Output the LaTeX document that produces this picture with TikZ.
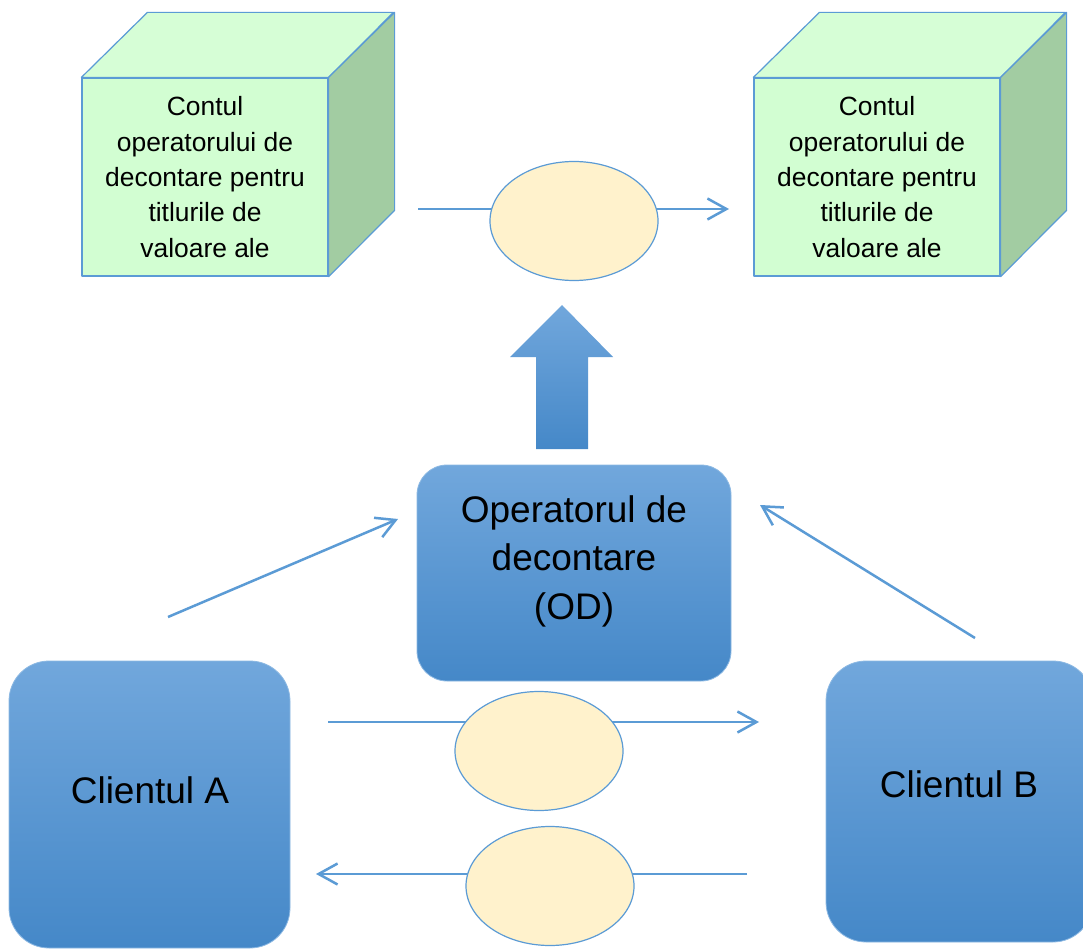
\documentclass[tikz,border=0pt]{standalone}
\usepackage{fontspec}
\setmainfont{Liberation Sans}
\usetikzlibrary{arrows.meta,shapes.geometric}
\definecolor{edgeblue}{HTML}{5B9BD5}
\definecolor{cubefront}{HTML}{D2FED2}
\definecolor{cubetop}{HTML}{D6FED6}
\definecolor{cubeside}{HTML}{A2CCA2}
\definecolor{ovalfill}{HTML}{FFF2CC}
\definecolor{boxtop}{HTML}{71A7DC}
\definecolor{boxbot}{HTML}{4588C8}
\tikzset{
  cubeface/.style={draw=edgeblue, line width=1.2pt, line join=round},
  frontface/.style={cubeface, fill=cubefront, minimum width=246pt, minimum height=198pt, inner sep=0pt,
     font=\fontsize{26.4}{35.3}\selectfont, align=center},
  oval/.style={ellipse, draw=edgeblue, line width=1.2pt, fill=ovalfill, minimum width=168pt, minimum height=119pt, inner sep=0pt},
  flow/.style={draw=edgeblue, line width=2.5pt},
  flowarrow/.style={flow, -{Straight Barb[length=19pt,width=21pt,line width=2.5pt]}},
  bluebox/.style={top color=boxtop, bottom color=boxbot, draw=boxtop!80!white, line width=0.8pt, inner sep=0pt},
  bigtext/.style={font=\fontsize{37}{48.5}\selectfont, align=center, inner sep=0pt}
}
\begin{document}
\begin{tikzpicture}[x=1pt,y=-1pt]
\useasboundingbox[fill=white] (0,0) rectangle (1083,949);

% cube 1
\node[frontface] (cubeA) at (205,177) {Contul\\operatorului de\\decontare pentru\\titlurile de\\valoare ale};
\draw[cubeface, fill=cubetop] (cubeA.north west) -- ++(66,-65) -- ++(246,0) -- (cubeA.north east) -- cycle;
\draw[cubeface, fill=cubeside] (cubeA.north east) -- ++(66,-65) -- ++(0,198) -- (cubeA.south east) -- cycle;

% cube 2
\node[frontface] (cubeB) at (877,177) {Contul\\operatorului de\\decontare pentru\\titlurile de\\valoare ale};
\draw[cubeface, fill=cubetop] (cubeB.north west) -- ++(66,-65) -- ++(246,0) -- (cubeB.north east) -- cycle;
\draw[cubeface, fill=cubeside] (cubeB.north east) -- ++(66,-65) -- ++(0,198) -- (cubeB.south east) -- cycle;

% top flow
\coordinate (t1) at (418,209);
\coordinate (t2) at (729,209);
\draw[flowarrow] (t1) -- (t2);
\node[oval] (ovalT) at (574,221) {};

% block arrow
\shade[top color=boxtop, bottom color=boxbot] (536,449) -- (536,357) -- (510,357) -- (562,305) -- (613,357) -- (588,357) -- (588,449) -- cycle;

% operator box
\node[bluebox, rounded corners=30pt, minimum width=314pt, minimum height=216pt] (od) at (574,573) {};
\node[bigtext] (odtext) at (574,561) {Operatorul de\\decontare\\(OD)};

% clients
\node[bluebox, rounded corners=40pt, minimum width=281pt, minimum height=287pt] (ca) at (149.5,804.5) {};
\node[bigtext] (catext) at (150,790) {Clientul A};
\node[bluebox, rounded corners=40pt, minimum width=267pt, minimum height=281pt] (cb) at (959.5,801.5) {};
\node[bigtext] (cbtext) at (959,784) {Clientul B};

% diagonal arrows
\coordinate (da1) at (168,617);
\coordinate (da2) at (398,519);
\draw[flowarrow] (da1) -- (da2);
\coordinate (db1) at (975,638);
\coordinate (db2) at (760,505);
\draw[flowarrow] (db1) -- (db2);

% bottom flows
\coordinate (b1) at (328,722);
\coordinate (b2) at (759,722);
\draw[flowarrow] (b1) -- (b2);
\node[oval] (ovalB1) at (539,751) {};
\coordinate (c1) at (747,874);
\coordinate (c2) at (316,874);
\draw[flowarrow] (c1) -- (c2);
\node[oval] (ovalB2) at (550,886) {};
\end{tikzpicture}
\end{document}
